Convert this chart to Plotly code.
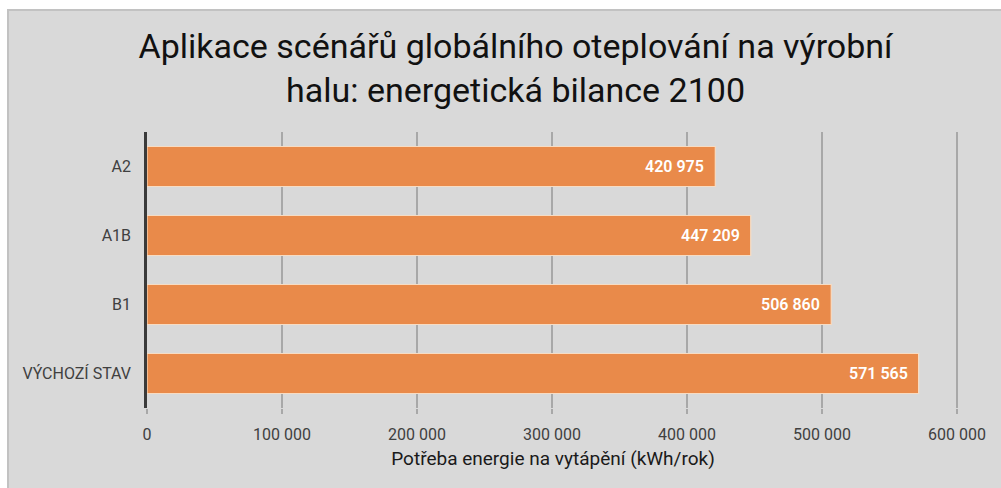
import plotly.graph_objects as go

# Scenario data: annual heating energy demand of the production hall
scenarios = ["A2", "A1B", "B1", "VÝCHOZÍ STAV"]
demand_kwh = [420975, 447209, 506860, 571565]
tick_values = [0, 100000, 200000, 300000, 400000, 500000, 600000]

title_text = "Aplikace scénářů globálního oteplování na výrobní<br>halu: energetická bilance 2100"
x_title = "Potřeba energie na vytápění (kWh/rok)"

FONT = "Roboto, Arial, sans-serif"
BAR = "#E98A4A"
PANEL = "#D9D9D9"

W, H = 1001, 488
X_MAX = 601500
L, T, B = 147, 132, 80
PX_PER_UNIT = 810 / 600000
pw = X_MAX * PX_PER_UNIT
R = W - L - pw
ph = H - T - B


def fmt(v):
    return f"{v:,}".replace(",", " ")


fig = go.Figure(
    go.Bar(
        x=demand_kwh,
        y=scenarios,
        orientation="h",
        marker=dict(color=BAR, line=dict(color="#F7DCC3", width=1.2)),
        width=0.58,
        hoverinfo="x+y",
    )
)

# value labels at the inner end of each bar
for cat, v in zip(scenarios, demand_kwh):
    fig.add_annotation(
        x=v, y=cat, text=fmt(v), showarrow=False,
        xanchor="right", xshift=-9,
        font=dict(family=FONT, size=16, color="white", weight=600),
    )

# grey panel with thin frame behind the chart
fig.add_shape(
    type="rect", xref="paper", yref="paper", layer="below",
    x0=(8 - L) / pw, x1=(W + 2 - L) / pw,
    y0=-(B + 2) / ph, y1=(H - B - 10) / ph,
    fillcolor=PANEL, line=dict(color="#C2C2C2", width=2),
)

fig.update_layout(
    width=W, height=H,
    margin=dict(l=L, r=R, t=T, b=B),
    paper_bgcolor="white",
    plot_bgcolor="rgba(0,0,0,0)",
    separators=", ",
    showlegend=False,
    title=dict(
        text=title_text, x=0.515, xref="container", xanchor="center",
        y=1 - 58 / H, yref="container", yanchor="middle",
        font=dict(family=FONT, size=34, color="#111111"),
    ),
    font=dict(family=FONT, color="#404040"),
)

fig.update_xaxes(
    range=[0, X_MAX], tickvals=tick_values,
    ticktext=[fmt(v) for v in tick_values],
    showgrid=True, gridcolor="#A8A8A8", gridwidth=1.5,
    zeroline=False, showline=False,
    ticks="outside", ticklen=5, tickcolor="#A8A8A8", tickwidth=1.5,
    ticklabelstandoff=7,
    tickfont=dict(family=FONT, size=16, color="#404040"),
    title=dict(text=x_title, standoff=8,
               font=dict(family=FONT, size=19, color="#1A1A1A")),
    fixedrange=True,
)

fig.update_yaxes(
    categoryorder="array", categoryarray=scenarios[::-1],
    showline=True, linecolor="#3A3A3A", linewidth=2.5,
    showgrid=False, ticks="", ticklabelstandoff=10,
    tickfont=dict(family=FONT, size=16, color="#404040"),
    fixedrange=True,
)

fig.write_html("out.html")
